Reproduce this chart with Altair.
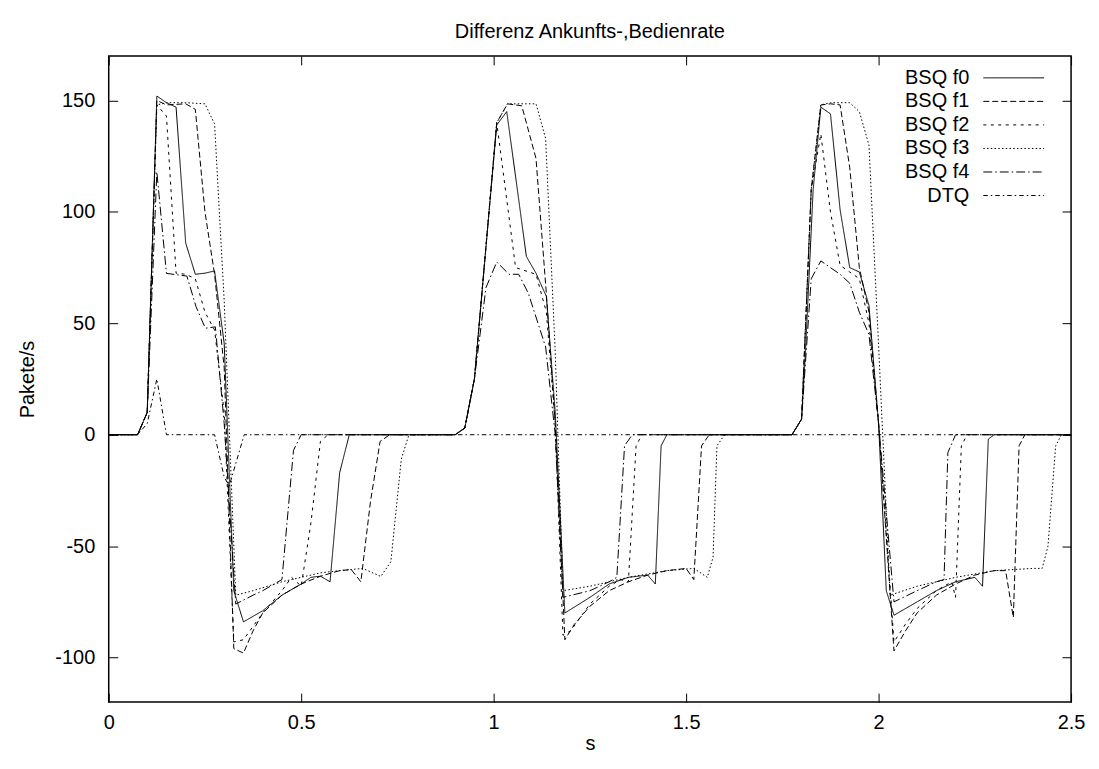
import altair as alt
import pandas as pd

series_names = ["BSQ f0", "BSQ f1", "BSQ f2", "BSQ f3", "BSQ f4", "DTQ"]

f0_s = [0, 0.075, 0.1, 0.125, 0.15, 0.175, 0.2, 0.225, 0.25, 0.275, 0.3, 0.325, 0.35, 0.4, 0.45, 0.5, 0.525, 0.55, 0.575, 0.6, 0.625,
        0.9, 0.925, 0.95, 1.008, 1.034, 1.06, 1.085, 1.11, 1.137, 1.16, 1.185, 1.25, 1.3, 1.35, 1.4, 1.42, 1.435, 1.45,
        1.775, 1.8, 1.81, 1.83, 1.85, 1.875, 1.9, 1.925, 1.95, 1.975, 2.0, 2.02, 2.04, 2.1, 2.15, 2.2, 2.25, 2.27, 2.285, 2.3, 2.5]
f0_v = [0, 0, 10, 152, 149, 147, 86, 72, 72.5, 73.5, 41, -70, -84, -79, -72, -67, -64, -63.5, -66, -17, 0,
        0, 3, 25, 139, 145, 112, 80, 72.5, 62, 10, -80, -73, -67, -64, -63, -67, -5, 0,
        0, 7, 37, 110, 147, 144, 101, 75, 73, 58, 5, -70, -81, -75, -70, -66, -64, -68, -2, 0, 0]

f1_s = [0, 0.075, 0.1, 0.125, 0.15, 0.2, 0.225, 0.25, 0.275, 0.3, 0.325, 0.35, 0.375, 0.4, 0.45, 0.5, 0.55, 0.6, 0.63, 0.655, 0.68, 0.705, 0.73,
        0.9, 0.925, 0.95, 1.008, 1.036, 1.073, 1.11, 1.137, 1.16, 1.185, 1.21, 1.25, 1.3, 1.35, 1.4, 1.45, 1.5, 1.52, 1.54, 1.56,
        1.775, 1.8, 1.825, 1.85, 1.875, 1.9, 1.925, 1.95, 1.975, 2.0, 2.04, 2.07, 2.1, 2.15, 2.2, 2.25, 2.3, 2.33, 2.35, 2.365, 2.38, 2.5]
f1_v = [0, 0, 10, 150, 148, 148.5, 146, 100, 72, 30, -96, -98, -88, -80, -72, -67, -63.5, -61, -60.5, -66, -30, -3, 0,
        0, 3, 25, 140, 148.5, 147.6, 124, 63, 5, -92, -85, -77, -70, -66, -63, -61, -60, -65, -5, 0,
        0, 7, 110, 148, 148.5, 148, 120, 75, 55, 5, -97, -88, -80, -72, -67, -63, -61, -61, -82, -5, 0, 0]

f2_s = [0, 0.075, 0.1, 0.125, 0.15, 0.175, 0.2, 0.225, 0.25, 0.275, 0.3, 0.325, 0.35, 0.4, 0.45, 0.475, 0.5, 0.525, 0.55, 0.57,
        0.9, 0.925, 0.95, 1.008, 1.057, 1.11, 1.137, 1.16, 1.18, 1.2, 1.25, 1.3, 1.33, 1.35, 1.37, 1.385,
        1.775, 1.8, 1.825, 1.85, 1.875, 1.9, 1.925, 1.95, 1.975, 2.0, 2.04, 2.07, 2.1, 2.15, 2.19, 2.2, 2.215, 2.23, 2.5]
f2_v = [0, 0, 10, 148, 143, 72.5, 72, 70, 55, 47, 10, -93, -92, -80, -70, -64, -68, -40, -3, 0,
        0, 3, 25, 140, 75, 72, 55, 5, -90, -88, -76, -68, -65, -66, -5, 0,
        0, 7, 110, 135, 100, 76, 73, 70, 50, 5, -93, -85, -78, -70, -66, -73, -5, 0, 0]

f3_s = [0, 0.075, 0.1, 0.125, 0.15, 0.2, 0.25, 0.275, 0.3, 0.33, 0.375, 0.45, 0.5, 0.55, 0.6, 0.66, 0.707, 0.733, 0.76, 0.78,
        0.9, 0.925, 0.95, 1.008, 1.036, 1.11, 1.135, 1.16, 1.18, 1.25, 1.35, 1.45, 1.52, 1.555, 1.57, 1.58, 1.6,
        1.775, 1.8, 1.825, 1.85, 1.875, 1.925, 1.95, 1.975, 2.0, 2.03, 2.1, 2.2, 2.3, 2.4, 2.425, 2.44, 2.46, 2.475, 2.5]
f3_v = [0, 0, 10, 148, 149, 149, 148.5, 139.5, 60, -72, -70, -66, -64, -62, -61, -60, -63.6, -57, -11, 0,
        0, 3, 25, 140, 148.5, 148.5, 133, 37, -70, -68, -64, -61, -60, -64, -55, -5, 0,
        0, 7, 110, 148, 149, 149, 145, 130, 40, -72, -68, -64, -61, -60, -60, -50, -5, 0, 0]

f4_s = [0, 0.075, 0.1, 0.125, 0.15, 0.203, 0.227, 0.251, 0.277, 0.3, 0.33, 0.375, 0.4, 0.45, 0.48, 0.5,
        0.9, 0.925, 0.95, 0.98, 1.008, 1.04, 1.065, 1.09, 1.135, 1.16, 1.18, 1.25, 1.3, 1.32, 1.34, 1.36,
        1.775, 1.8, 1.825, 1.85, 1.875, 1.9, 1.925, 1.95, 1.975, 2.0, 2.04, 2.1, 2.15, 2.17, 2.18, 2.2, 2.5]
f4_v = [0, 0, 10, 118, 72.4, 71.2, 57.4, 47.8, 48.4, 5, -76, -72, -70, -65, -7, 0,
        0, 3, 25, 66, 77.5, 72, 72, 63.5, 39.4, 0, -73, -70, -66, -64, -5, 0,
        0, 7, 70, 78, 75, 72, 68, 55, 45, 5, -75, -70, -66, -65, -8, 0, 0]

dtq_s = [0, 0.075, 0.1, 0.125, 0.15, 0.275, 0.3, 0.313, 0.352, 2.5]
dtq_v = [0, 0, 5, 25, 0, 0, -19, -23, 0, 0]

dash_patterns = [[1, 0], [6, 3], [3, 4.5], [1.5, 2.25], [9, 3, 1.5, 3], [4.5, 3, 1.5, 3]]

rows = []
for name, sx, vy in zip(series_names,
                        [f0_s, f1_s, f2_s, f3_s, f4_s, dtq_s],
                        [f0_v, f1_v, f2_v, f3_v, f4_v, dtq_v]):
    for i, (a, b) in enumerate(zip(sx, vy)):
        rows.append({"series": name, "s": a, "v": b, "idx": i})
df = pd.DataFrame(rows)

FONT = "Liberation Sans"
x_scale = alt.Scale(domain=[0, 2.5], nice=False, zero=False)
y_scale = alt.Scale(domain=[-120, 170], nice=False, zero=False)
dash_scale = alt.Scale(domain=series_names, range=dash_patterns)
x_ticks = [0, 0.5, 1, 1.5, 2, 2.5]
y_ticks = [-100, -50, 0, 50, 100, 150]

axis_common = dict(domain=False, ticks=True, tickSize=9, tickColor="black", tickWidth=1,
                   offset=-9, grid=False)

lines = alt.Chart(df).mark_line(color="black", strokeWidth=1).encode(
    x=alt.X("s:Q", scale=x_scale, axis=alt.Axis(
        orient="bottom", values=x_ticks, labelExpr="'' + datum.value", labelFont=FONT, labelFontSize=20,
        labelColor="black", labelPadding=10, labelFlush=False, labelOverlap=False,
        title="s", titleFont=FONT, titleFontSize=20, titleFontWeight="normal", titleColor="black",
        titleX=482.5, titleY=51, titleBaseline="middle", titleAlign="center", **axis_common)),
    y=alt.Y("v:Q", scale=y_scale, axis=alt.Axis(
        orient="left", values=y_ticks, labelExpr="'' + datum.value", labelFont=FONT, labelFontSize=20,
        labelColor="black", labelPadding=14, labelOverlap=False,
        title="Pakete/s", titleFont=FONT, titleFontSize=20, titleFontWeight="normal", titleColor="black",
        titleX=-90, titleY=324, titleAngle=270, titleBaseline="middle", titleAlign="center", **axis_common)),
    strokeDash=alt.StrokeDash("series:N", scale=dash_scale, legend=None),
    detail="series:N",
    order="idx:Q",
)

mirror = alt.Chart(df).mark_line(opacity=0).encode(
    x=alt.X("s:Q", scale=x_scale, axis=alt.Axis(orient="top", values=x_ticks, labels=False, title="", **axis_common)),
    y=alt.Y("v:Q", scale=y_scale, axis=alt.Axis(orient="right", values=y_ticks, labels=False, title="", **axis_common)),
    detail="series:N",
    order="idx:Q",
)

leg_df = pd.DataFrame({"series": series_names})
leg_y = alt.Y("series:N", scale=alt.Scale(type="point", domain=series_names, range=[22, 140], padding=0), axis=None)
leg_text = alt.Chart(leg_df).mark_text(align="right", baseline="middle", font=FONT, fontSize=20, color="black").encode(
    x=alt.value(863), y=leg_y, text="series:N")
leg_rule = alt.Chart(leg_df).mark_rule(color="black", strokeWidth=1).encode(
    x=alt.value(877), x2=alt.value(938), y=leg_y,
    strokeDash=alt.StrokeDash("series:N", scale=dash_scale, legend=None))

main = alt.layer(lines, mirror).resolve_axis(x="independent", y="independent")

chart = alt.layer(main, leg_rule, leg_text).resolve_scale(y="independent").properties(
    width=965, height=648,
    title=alt.Title("Differenz Ankunfts-,Bedienrate", font=FONT, fontSize=20, fontWeight="normal",
                    color="black", anchor="middle", offset=13),
    autosize=alt.AutoSizeParams(type="none"),
    padding={"left": 101, "top": 47, "right": 20, "bottom": 58},
).configure_view(stroke="black", strokeWidth=1.5)

chart.save("out.html", embed_options={"renderer": "svg", "actions": False})
